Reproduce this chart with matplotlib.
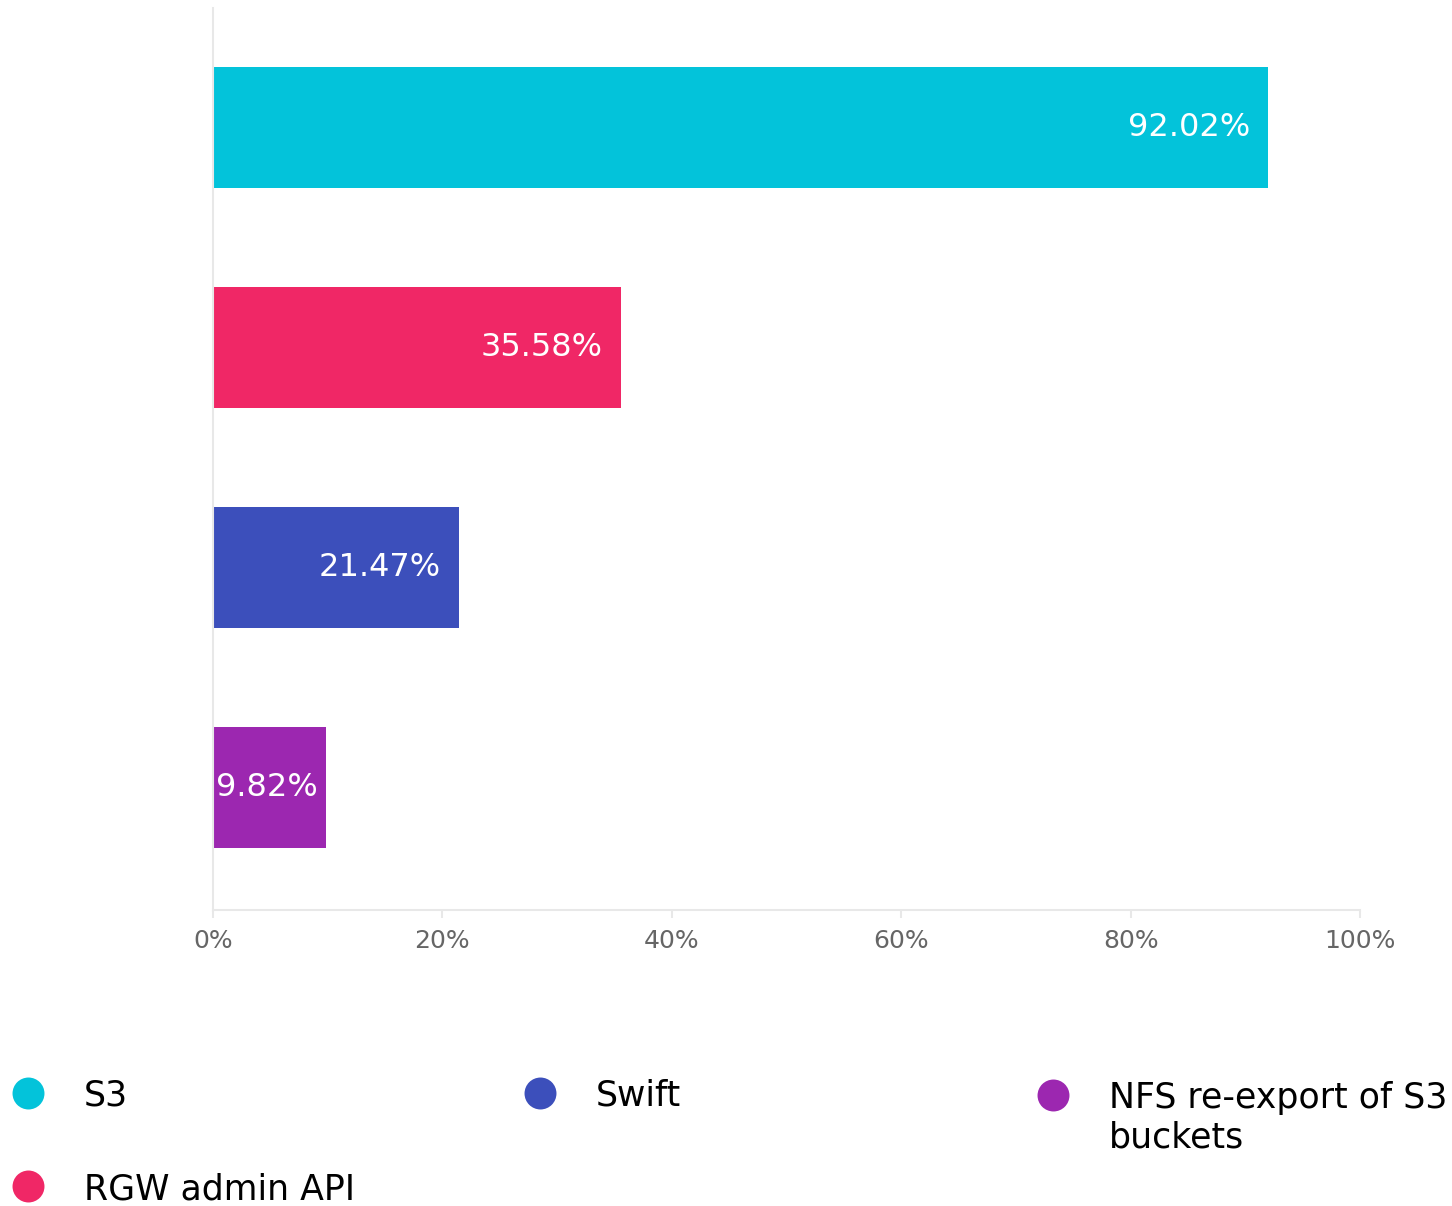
"""
Horizontal bar chart: share of RGW interfaces in use.
"""

import matplotlib.pyplot as plt
import matplotlib.ticker as mticker

categories = ["S3", "RGW admin API", "Swift", "NFS re-export of S3\nbuckets"]
values = [92.02, 35.58, 21.47, 9.82]
colors = ["#03C3DA", "#F02766", "#3C4FBB", "#9C27B0"]
xticks = [0, 20, 40, 60, 80, 100]

fig = plt.figure(figsize=(14.52, 12.06), dpi=100)
ax = fig.add_axes([213 / 1452, 1 - 910 / 1206, 1147 / 1452, 902 / 1206])

ypos = list(range(len(values)))
ax.barh(ypos, values, height=0.55, color=colors)

# labels inside the bars, right aligned; small bars get them at the left edge
for y, v in zip(ypos, values):
    if v < 12:
        ax.text(0.25, y, f"{v:.2f}%", ha="left", va="center",
                color="white", fontsize=23)
    else:
        ax.text(v - 1.6, y, f"{v:.2f}%", ha="right", va="center",
                color="white", fontsize=23)

ax.set_xlim(0, 100)
ax.set_ylim(3.557, -0.543)
ax.set_xticks(xticks)
ax.xaxis.set_major_formatter(mticker.FuncFormatter(lambda x, _: f"{x:.0f}%"))
ax.set_yticks([])
ax.tick_params(axis="x", colors="#e8e8e8", length=6, width=1.5,
               labelcolor="#666666", labelsize=18, pad=8)
for side in ["top", "right"]:
    ax.spines[side].set_visible(False)
for side in ["left", "bottom"]:
    ax.spines[side].set_color("#e8e8e8")
    ax.spines[side].set_linewidth(1.5)

# legend, drawn by hand in figure pixels
leg = fig.add_axes([0, 0, 1, 1], zorder=-1)
leg.set_xlim(0, 1452)
leg.set_ylim(1206, 0)
leg.axis("off")
leg_x = [28, 28, 540, 1053]
leg_y = [1093, 1186, 1093, 1095]
for name, c, lx, ly in zip(categories, colors, leg_x, leg_y):
    leg.plot(lx, ly, "o", color=c, markersize=23, markeredgewidth=0)
    leg.text(lx + 56, ly - 14, name, ha="left", va="top",
             fontsize=25, color="black", linespacing=1.2)

plt.savefig("out.png")
